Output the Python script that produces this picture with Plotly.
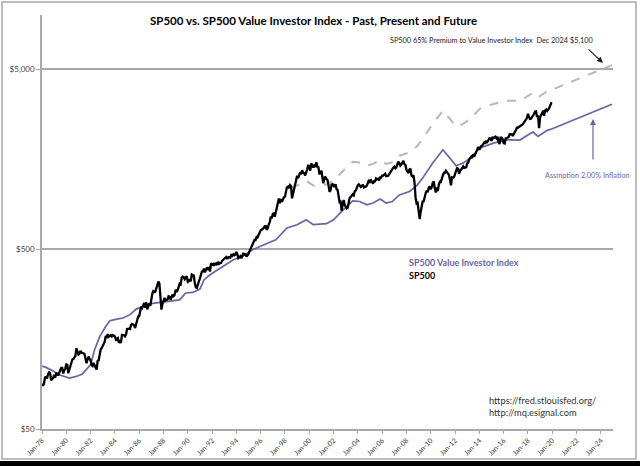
import pandas as pd
import plotly.graph_objects as go

# ---------------- data ----------------
sp500_start = "1978-01-01"
sp500 = [
 89.25,87.04,89.21,96.83,97.24,95.53,100.68,103.29,102.54,93.15,94.70,96.11,
 99.93,96.28,101.59,101.76,99.08,102.91,103.81,109.32,109.32,101.82,106.16,107.94,
 114.16,113.66,102.09,106.29,111.24,114.24,121.67,122.38,125.46,127.47,140.52,135.76,
 129.55,131.27,136.00,132.81,132.59,131.21,130.92,122.79,116.18,121.89,126.35,122.55,
 120.40,113.11,111.96,116.44,111.88,109.61,107.09,119.51,120.42,133.71,138.54,140.64,
 145.30,148.06,152.96,164.42,162.39,168.11,162.56,164.40,166.07,163.55,166.40,164.93,
 163.41,157.06,159.18,160.05,150.55,153.18,150.66,166.68,166.10,166.09,163.58,167.24,
 179.63,181.18,180.66,179.83,189.55,191.85,190.92,188.63,182.08,189.82,202.17,211.28,
 211.78,226.92,238.90,235.52,247.35,250.84,236.12,252.93,231.32,243.98,249.22,242.17,
 274.08,284.20,291.70,288.36,290.10,304.00,318.66,329.80,321.83,251.79,230.30,247.08,
 257.07,267.82,258.89,261.33,262.16,273.50,272.02,261.52,271.91,278.97,273.70,277.72,
 297.47,288.86,294.87,309.64,320.52,317.98,346.08,351.45,349.15,340.36,345.99,353.40,
 329.08,331.89,339.94,330.80,361.23,358.02,356.15,322.56,306.05,304.00,322.22,330.22,
 343.93,367.07,375.22,375.35,389.83,371.16,387.81,395.43,387.86,392.46,375.22,417.09,
 408.79,412.70,403.69,414.95,415.35,408.14,424.21,414.03,417.80,418.68,431.35,435.71,
 438.78,443.38,451.67,440.19,450.19,450.53,448.13,463.56,458.93,467.83,461.79,466.45,
 481.61,467.14,445.77,450.91,456.50,444.27,458.26,475.49,462.69,472.35,453.69,459.27,
 470.42,487.39,500.71,514.71,533.40,544.75,562.06,561.88,584.41,581.50,605.37,615.93,
 636.02,640.43,645.50,654.17,669.12,670.63,639.95,651.99,687.31,705.27,757.02,740.74,
 786.16,790.82,757.12,801.34,848.28,885.14,954.29,899.47,947.28,914.62,955.40,970.43,
 980.28,1049.34,1101.75,1111.75,1090.82,1133.84,1120.67,957.28,1017.01,1098.67,1163.63,1229.23,
 1279.64,1238.33,1286.37,1335.18,1301.84,1372.71,1328.72,1320.41,1282.71,1362.93,1388.91,1469.25,
 1394.46,1366.42,1498.58,1452.43,1420.60,1454.60,1430.83,1517.68,1436.51,1429.40,1314.95,1320.28,
 1366.01,1239.94,1160.33,1249.46,1255.82,1224.38,1211.23,1133.58,1040.94,1059.78,1139.45,1148.08,
 1130.20,1106.73,1147.39,1076.92,1067.14,989.82,911.62,916.07,815.28,885.76,936.31,879.82,
 855.70,841.15,848.18,916.92,963.59,974.50,990.31,1008.01,995.97,1050.71,1058.20,1111.92,
 1131.13,1144.94,1126.21,1107.30,1120.68,1140.84,1101.72,1104.24,1114.58,1130.20,1173.82,1211.92,
 1181.27,1203.60,1180.59,1156.85,1191.50,1191.33,1234.18,1220.33,1228.81,1207.01,1249.48,1248.29,
 1280.08,1280.66,1294.83,1310.61,1270.09,1270.20,1276.66,1303.82,1335.85,1377.94,1400.63,1418.30,
 1438.24,1406.82,1420.86,1482.37,1530.62,1503.35,1455.27,1473.99,1526.75,1549.38,1481.14,1468.36,
 1378.55,1330.63,1322.70,1385.59,1400.38,1280.00,1267.38,1282.83,1166.36,968.75,896.24,903.25,
 825.88,735.09,797.87,872.81,919.14,919.32,987.48,1020.62,1057.08,1036.19,1095.63,1115.10,
 1073.87,1104.49,1169.43,1186.69,1089.41,1030.71,1101.60,1049.33,1141.20,1183.26,1180.55,1257.64,
 1286.12,1327.22,1325.83,1363.61,1345.20,1320.64,1292.28,1218.89,1131.42,1253.30,1246.96,1257.60,
 1312.41,1365.68,1408.47,1397.91,1310.33,1362.16,1379.32,1406.58,1440.67,1412.16,1416.18,1426.19,
 1498.11,1514.68,1569.19,1597.57,1630.74,1606.28,1685.73,1632.97,1681.55,1756.54,1805.81,1848.36,
 1782.59,1859.45,1872.34,1883.95,1923.57,1960.23,1930.67,2003.37,1972.29,2018.05,2067.56,2058.90,
 1994.99,2104.50,2067.89,2085.51,2107.39,2063.11,2103.84,1972.18,1920.03,2079.36,2080.41,2043.94,
 1940.24,1932.23,2059.74,2065.30,2096.95,2098.86,2173.60,2170.95,2168.27,2126.15,2198.81,2238.83,
 2278.87,2363.64,2362.72,2384.20,2411.80,2423.41,2470.30,2471.65,2519.36,2575.26,2647.58,2673.61,
 2823.81,2713.83,2640.87,2648.05,2705.27,2718.37,2816.29,2901.52,2913.98,2711.74,2760.17,2350.00,
 2704.10,2784.49,2834.40,2945.83,2752.06,2941.76,2980.38,2926.46,2976.74,3037.56,3140.98,3230.78,
 3225.52,
]
sp500_dates = pd.date_range(sp500_start, periods=len(sp500), freq="MS")

value_dates = [
 "1978-01","1978-05","1978-12","1979-06","1980-04","1980-11","1981-05","1982-01","1982-05","1982-10",
 "1983-03","1983-08","1984-03","1984-09","1985-04","1985-10","1986-05","1986-11","1987-06","1988-04",
 "1989-05","1989-11","1990-06","1991-01","1991-05","1991-11","1992-07","1993-10","1994-07","1995-05",
 "1996-06","1997-04","1998-03","1999-01","1999-10","2000-05","2001-06","2002-01","2002-10","2003-08",
 "2004-03","2004-10","2005-04","2005-11","2006-05","2006-11","2007-06","2008-04","2008-11","2009-05",
 "2010-03","2010-10","2011-01","2011-08","2012-02","2012-09","2013-06","2014-01","2015-03","2016-04",
 "2017-05","2018-03","2018-06","2018-11","2019-08","2020-01","2022-05","2024-12",
]
value_index = [
 112,110,105,100,96,98,101,114,138,163,
 182,200,204,207,216,232,240,248,251,256,
 261,285,287,300,337,360,384,436,455,496,
 533,563,655,683,728,683,692,728,820,927,
 919,881,901,948,901,919,1000,1045,1123,1240,
 1503,1708,1781,1602,1452,1503,1635,1820,1941,2024,
 2018,2186,2236,2113,2285,2334,2712,3192,
]

premium_dates = [
 "1998-07","1999-01","1999-10","2000-05","2001-06","2002-01","2002-10","2003-08",
 "2004-03","2004-10","2005-04","2005-11","2006-05","2006-11","2007-06","2008-04","2008-11","2009-05",
 "2010-03","2010-10","2011-01","2011-08","2012-02","2012-09","2013-06","2014-01","2015-03","2016-04",
 "2017-05","2018-03","2018-06","2018-11","2019-08","2020-01","2022-05","2024-12",
]
premium_index = [
 1100,1127,1201,1127,1142,1201,1353,1530,
 1516,1454,1487,1564,1487,1516,1650,1724,1853,2046,
 2480,2818,2939,2643,2396,2480,2698,3003,3203,3340,
 3330,3607,3689,3486,3770,3851,4475,5267,
]

y_tick_vals = [50, 500, 5000]
y_tick_text = ["$50", "$500", "$5,000"]

# ---------------- layout helpers ----------------
W, H = 640, 466
ML, MR, MT, MB = 42, 27, 15, 37
PW, PH = W - ML - MR, H - MT - MB

def px(x):
    return (x - ML) / PW

def py(y):
    return (H - MB - y) / PH

FONT = "Lato"
PURPLE = "#6A63A6"
AXIS = "#A8A8A8"

fig = go.Figure()
fig.add_trace(go.Scatter(x=pd.to_datetime(premium_dates), y=premium_index, mode="lines",
                         line=dict(color="#B8B8B8", width=2, dash="dash"), hoverinfo="skip"))
fig.add_trace(go.Scatter(x=pd.to_datetime(value_dates), y=value_index, mode="lines",
                         line=dict(color=PURPLE, width=1.7), name="SP500 Value Investor Index"))
fig.add_trace(go.Scatter(x=sp500_dates, y=sp500, mode="lines",
                         line=dict(color="black", width=2.3), name="SP500"))

fig.update_layout(
    width=W, height=H, margin=dict(l=ML, r=MR, t=MT, b=MB, autoexpand=False),
    paper_bgcolor="white", plot_bgcolor="white", showlegend=False,
    font=dict(family=FONT, color="#404040", size=8),
)
fig.update_xaxes(
    type="date", range=["1978-01-01", "2025-01-01"], tick0="1978-01-01", dtick="M24",
    tickformat="%b-%y", tickangle=-45, tickfont=dict(size=7, color="#404040"),
    showgrid=False, showline=True, linecolor=AXIS, linewidth=1.5, automargin=False,
    ticks="outside", ticklen=3, tickcolor=AXIS, zeroline=False,
)
fig.update_yaxes(
    type="log", range=[1.69897, 4.0], tickvals=y_tick_vals, ticktext=y_tick_text,
    tickfont=dict(size=8, color="#404040"), automargin=False,
    showgrid=True, gridcolor=AXIS, gridwidth=1.5,
    showline=True, linecolor=AXIS, linewidth=1.5,
    ticks="outside", ticklen=4, tickcolor=AXIS, zeroline=False,
)

# frame and bottom band
fig.add_shape(type="rect", xref="paper", yref="paper",
              x0=px(2), x1=px(636), y0=py(459), y1=py(2),
              line=dict(color="#BDBDBD", width=2), layer="above")
fig.add_shape(type="rect", xref="paper", yref="paper",
              x0=px(-5), x1=px(650), y0=py(470), y1=py(461),
              line=dict(width=0), fillcolor="black", layer="above")


def note(x, y, text, size, color, xanchor="center", bold=False):
    if bold:
        text = "<b>" + text + "</b>"
    return dict(x=px(x), y=py(y), xref="paper", yref="paper", showarrow=False,
                xanchor=xanchor, yanchor="middle", text=text,
                font=dict(size=size, color=color, family=FONT))


ann = [
    note(313, 21, "SP500 vs. SP500 Value Investor Index - Past, Present and Future", 11.5, "black", bold=True),
    note(492, 40, "SP500 65% Premium to Value Investor Index  Dec 2024 $5,100", 7.3, "#222222"),
    note(587, 175, "Assmption 2.00% Inflation", 7.3, PURPLE),
    note(407, 262, "SP500 Value Investor Index", 9, PURPLE, "left", True),
    note(407, 275, "SP500", 9, "black", "left", True),
    note(487, 400, "https://fred.stlouisfed.org/", 9.3, "#333333", "left"),
    note(487, 412, "http://mq.esignal.com", 9.3, "#333333", "left"),
    dict(x=px(603), y=py(63), xref="paper", yref="paper", text="", showarrow=True,
         ax=-16, ay=-15, arrowhead=2, arrowsize=1, arrowwidth=1.2, arrowcolor="#222222"),
    dict(x=px(593), y=py(119), xref="paper", yref="paper", text="", showarrow=True,
         ax=0, ay=42, arrowhead=2, arrowsize=1, arrowwidth=1.2, arrowcolor=PURPLE),
]
fig.update_layout(annotations=ann)

fig.write_html("out.html", config={"displayModeBar": False},
               post_script="document.body.style.margin='0';document.body.style.overflow='hidden';")
